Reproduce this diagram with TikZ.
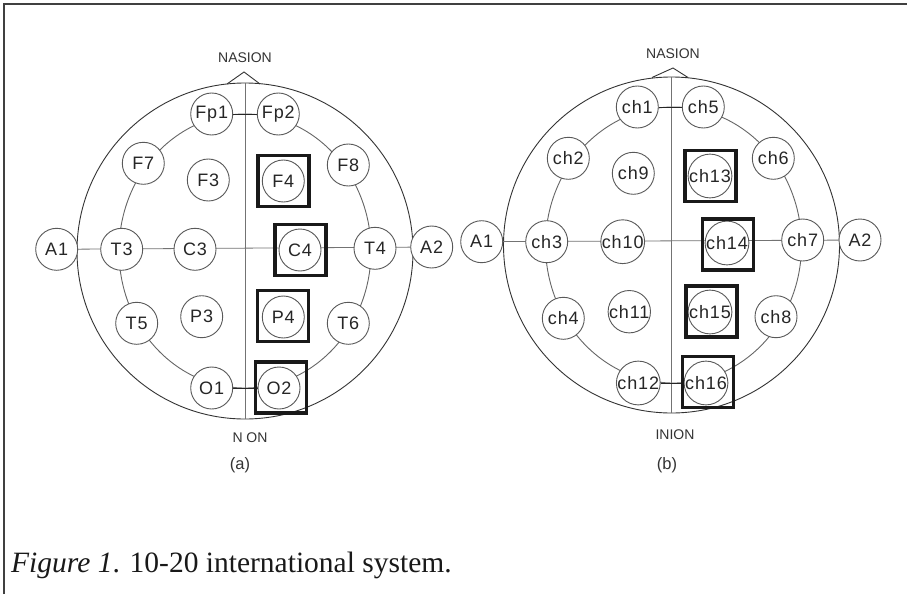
\documentclass[tikz,border=0pt]{standalone}
\usepackage{fontspec}
\setmainfont{Liberation Serif}
\newfontfamily\lab{Liberation Sans}[LetterSpace=5]
\newfontfamily\labn{Liberation Sans}
\pgfdeclarelayer{background}
\pgfsetlayers{background,main}
\begin{document}
\begin{tikzpicture}[x=1pt,y=-1pt,
  elec/.style={circle, draw=black!65, line width=0.9pt, fill=white, minimum size=42pt, inner sep=0pt, text=black!85, font=\lab\fontsize{18}{20}\selectfont},
  selbox/.style={draw=black!90, line width=3.6pt, minimum size=51pt, inner sep=0pt},
  head/.style={draw=black!80, line width=0.9pt},
  ring/.style={draw=black!60, line width=0.9pt},
  axis/.style={draw=black!55, line width=0.8pt},
  link/.style={draw=black!85, line width=0.9pt},
  tag/.style={text=black!80, font=\labn\fontsize{14}{16}\selectfont},
  sub/.style={text=black!80, font=\labn\fontsize{16.5}{18}\selectfont}]
\useasboundingbox (0,0) rectangle (907,594);

% ---------------- (a) ----------------
\node[elec] (Fp1) at (211.7,114) {Fp1};
\node[elec] (Fp2) at (278.3,114) {Fp2};
\node[elec] (F7) at (143.3,163.3) {F7};
\node[elec] (F3) at (208.3,180) {F3};
\node[elec] (F4) at (283.3,181) {F4};
\node[elec] (F8) at (348.3,165) {F8};
\node[elec] (A1a) at (56.7,249.3) {A1};
\node[elec] (T3) at (121.7,249.3) {T3};
\node[elec] (C3) at (195,249.3) {C3};
\node[elec] (C4) at (300,250) {C4};
\node[elec] (T4) at (375,248.3) {T4};
\node[elec] (A2a) at (431.7,247) {A2};
\node[elec] (T5) at (136.7,323.3) {T5};
\node[elec] (P3) at (201.7,316.7) {P3};
\node[elec] (P4) at (283.3,317) {P4};
\node[elec] (T6) at (348.3,323.3) {T6};
\node[elec] (O1) at (211.7,388) {O1};
\node[elec] (O2) at (279,388) {O2};

\node[selbox] (bF4) at (283.3,181) {};
\node[selbox] (bC4) at (300.3,250) {};
\node[selbox] (bP4) at (283,316) {};
\node[selbox] (bO2) at (281,387.5) {};

\node[tag] (nasa) at (245,58) {NASION};
\coordinate (noseLa) at (227,84);
\coordinate (noseTa) at (244,72);
\coordinate (noseRa) at (260,84);
\coordinate (topa) at (245,83);
\coordinate (bota) at (245,419);
\node[tag] (inia) at (250,438) {N ON};
\node[sub] (cap a) at (240,465) {(a)};

% ---------------- (b) ----------------
\node[elec] (ch1) at (637.3,107) {ch1};
\node[elec] (ch5) at (703.3,107) {ch5};
\node[elec] (ch2) at (568.3,158.3) {ch2};
\node[elec] (ch9) at (633.3,173.3) {ch9};
\node[elec] (ch13) at (710,176) {ch13};
\node[elec] (ch6) at (773.3,158.3) {ch6};
\node[elec] (A1b) at (481.7,241.7) {A1};
\node[elec] (ch3) at (546.7,241.7) {ch3};
\node[elec] (ch10) at (622.7,241.7) {ch10};
\node[elec] (ch14) at (727,243) {ch14};
\node[elec] (ch7) at (802.7,240) {ch7};
\node[elec] (A2b) at (860,240) {A2};
\node[elec] (ch4) at (563.3,318.3) {ch4};
\node[elec] (ch11) at (629.3,311.7) {ch11};
\node[elec] (ch15) at (710,312) {ch15};
\node[elec] (ch8) at (776,316.7) {ch8};
\node[elec] (ch12) at (638.3,383) {ch12};
\node[elec] (ch16) at (706,383) {ch16};

\node[selbox] (bch13) at (710.3,176) {};
\node[selbox] (bch14) at (727.8,244.5) {};
\node[selbox] (bch15) at (711.2,311.2) {};
\node[selbox] (bch16) at (707.8,382) {};

\node[tag] (nasb) at (673,54) {NASION};
\coordinate (noseLb) at (652,77.5);
\coordinate (noseTb) at (673,68);
\coordinate (noseRb) at (688,77.5);
\coordinate (topb) at (671.7,77);
\coordinate (botb) at (671.7,413);
\node[tag] (inib) at (675,435) {INION};
\node[sub] (cap b) at (667,465) {(b)};

% caption
\node[anchor=base west, inner sep=0pt, text=black!90] (caption) at (11,572)
  {\fontsize{29.5}{32}\selectfont\textit{Figure 1}. 10-20 international system.};

\begin{pgfonlayer}{background}
  \fill[white] (0,0) rectangle (907,594);
  \draw[black!75, line width=1.5pt] (4,594) -- (4,4) -- (907,4);
  % (a)
  \draw[head] (245,251) circle (168pt);
  \draw[ring] (245,251) ellipse (126pt and 137pt);
  \draw[axis] (topa) -- (bota);
  \draw[axis] (A1a.center) -- (A2a.center);
  \draw[head] (noseLa) -- (noseTa) -- (noseRa);
  \draw[link] (Fp1) -- (Fp2);
  \draw[link] (O1) -- (O2);
  % (b)
  \draw[head] (671.5,245) circle (168pt);
  \draw[ring] (673.5,245) ellipse (128pt and 138pt);
  \draw[axis] (topb) -- (botb);
  \draw[axis] (A1b.center) -- (A2b.center);
  \draw[head] (noseLb) -- (noseTb) -- (noseRb);
  \draw[link] (ch1) -- (ch5);
  \draw[link] (ch12) -- (ch16);
\end{pgfonlayer}
\end{tikzpicture}
\end{document}
